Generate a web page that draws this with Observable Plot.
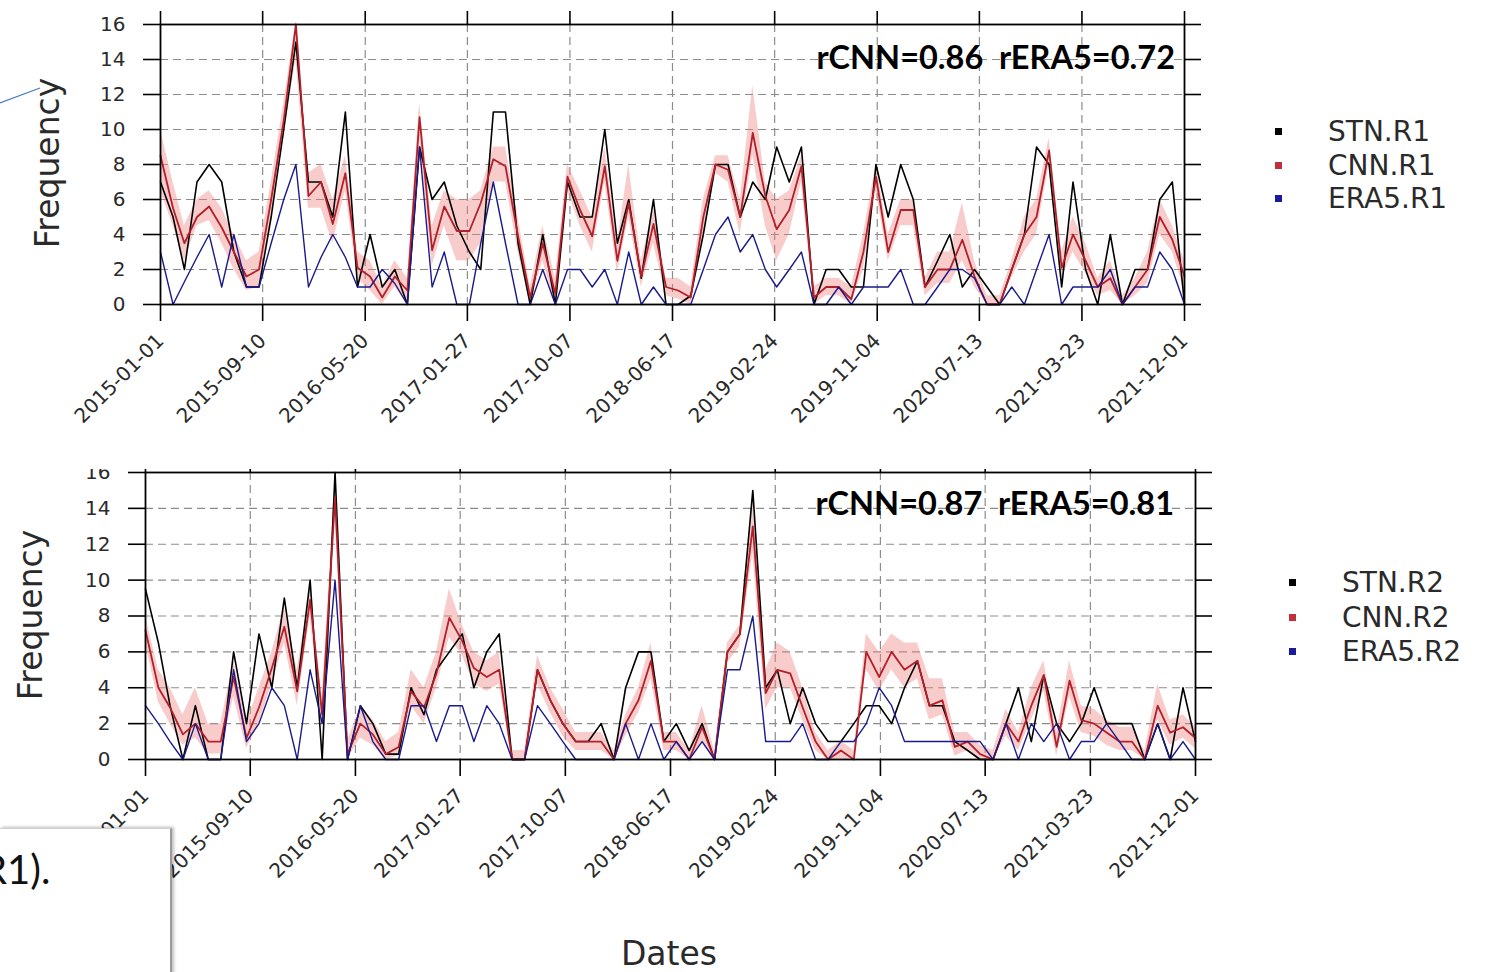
<!DOCTYPE html>
<html><head><meta charset="utf-8">
<script src="https://cdn.jsdelivr.net/npm/d3@7"></script>
<script src="https://cdn.jsdelivr.net/npm/@observablehq/plot@0.6"></script>
<style>
body{margin:0;background:#fff;}
#page{position:relative;width:1485px;height:972px;overflow:hidden;background:#fff;font-family:"DejaVu Sans",sans-serif;color:#222;}
#page div{white-space:pre;}
.abs{position:absolute;}
.sq{position:absolute;width:7px;height:7px;}
.lt{position:absolute;font-size:28px;line-height:28px;transform:translateY(-50%);color:#2a2a2a;}
.ann{position:absolute;font-family:Lato,"Open Sans",sans-serif;font-weight:700;font-size:32.5px;line-height:34px;transform:translate(-100%,-50%);color:#000;}
.ylab{position:absolute;font-size:33px;line-height:33px;transform:translate(-50%,-50%) rotate(-90deg);color:#2a2a2a;}
</style></head><body><div id="page"></div>
<script>
// ---------- data ----------
const startMonth = "2015-01-01", endMonth = "2021-12-01";
const tickLabels = ["2015-01-01","2015-09-10","2016-05-20","2017-01-27","2017-10-07","2018-06-17","2019-02-24","2019-11-04","2020-07-13","2021-03-23","2021-12-01"];
const yTicks = [0,2,4,6,8,10,12,14,16];

const stnR1 = [7,5,2,7,8,7,3,1,1,5,10,15,7,7,5,11,1,4,1,2,0,9,6,7,4.5,3,2,11,11,3.5,0,4,0,7,5,5,10,3.5,6,1.5,6,0,0,0.5,4,8,8,5,7,6,9,7,9,0,2,2,1,1,8,5,8,6,1,2.5,4,1,2,1,0,2,4,9,8,1,7,2,0,4,0,2,2,6,7,0];
const cnnR1 = [8.5,5.5,3.5,5,5.6,4.4,3,1.6,2,6,10.5,16,6.2,7,4.6,7.5,2.1,1.6,0.4,1.6,0.8,10.7,3.1,5.6,4.2,4.2,5.8,8.3,7.9,3.9,0.4,3.5,0.6,7.3,5.4,3.9,7.9,2.5,5.8,1.6,4.6,1,0.8,0.4,5,8,7.7,5,9.8,6.2,4.3,5.4,7.9,0.4,1,1,0.3,3,7.3,3,5.4,5.4,1,2,2,3.7,1.6,0,0,2,4,5,8.8,2.1,4,2.5,1,1.5,0,1,2,5,3.7,1.6];
const cnnR1lo = [6.5,4.5,2.5,4.5,4.8,3.5,2,0.8,1,5,9.5,14,5.5,5.5,3.5,6.5,1.5,0.8,0,1,0,9.5,2.2,4.5,2.5,2.5,3.5,7,7,3,0,2.5,0,6.5,4.5,3,7,1.8,5,1,3.5,0.5,0.3,0,4,7.5,7,4,8.5,4.5,2.5,4,7,0,0.5,0.5,0,2,6.5,2.5,4.5,4.5,0.5,1.2,1.2,2.5,1,0,0,1.5,3,4,8,1.5,3,1.8,0.5,0.8,0,0.5,1.2,4,3,0.8];
const cnnR1hi = [10,7,4.5,6,6.5,5.5,4,2.5,3,7,11.5,16.2,7.5,8,6,8.5,3,2.5,1,2.5,1.5,11.5,4.5,6.5,6,6,6.5,9,9,5,1,4.5,1.5,8,6.5,5,9,3.5,8,2.5,5.5,1.5,1.5,1,6,8.5,8.5,6,12.5,7,6,6.5,8.5,1,1.5,1.5,1,4,8,4,6,6,1.5,3,3,5.8,2.5,0.5,0.5,2.5,5,6,9.5,3,5,3.5,1.5,2.5,0.5,1.5,3,6,4.5,2.5];
const eraR1 = [3,0,1.3,2.7,4,1,4,1,1,3.5,6,8,1,2.7,4,2.7,1,1,2,1.2,0,9,1,3,0,0,3.5,7,3.5,0,0,2,0,2,2,1,2,0,3,0,1,0,0,0,2,4,5,3,4,2,1,2,3,0,0,1,0,1,1,1,2,0,0,1,2,2,1.5,0,0,1,0,2,4,0,1,1,1,2,0,1,1,3,2,0];

const stnR2 = [9.5,6.5,3,0,3,0,0,6,2,7,4,9,4,10,0,16,0,3,2,0.3,0.3,4,2.5,5,6,7,4,6,7,0,0,5,3.3,2,1,1,2,0,4,6,6,1,2,0.5,2,0,6,7,15,4,5,2,4,2,1,1,2,3,3,2,4,5.5,3,3,1,0.5,0,0,2,4,1,4.7,2,1,2,4,2,2,2,0,2,0,4,1];
const cnnR2 = [7.2,4,2.9,1.4,2,1,1,4.6,1.2,2.9,5.1,7.4,3.8,8.9,2.5,14.6,0.3,2,1.4,0.3,0.7,3.8,2.9,4.8,7.9,6.6,5.1,4.6,5,0,0,5,3.3,2,1,1,1,0,2,3.3,5.5,1,1,0,1.8,0,6,7,13,3.7,5,4.8,2.9,1,0,0.5,0,6,4.6,6,5,5.5,3,3.3,0.7,1,0.3,0,2,1,3,4.7,0.7,4.4,2.2,2,1.5,1,1,0,3,1.5,1.8,1.2];
const cnnR2lo = [6.5,3.2,2,0.8,1.2,0.3,0.3,3.5,0.6,2,4.2,6.5,3,8,1.8,13.5,0,1.2,0.8,0,0.2,3,2,4,6.8,5.8,4.2,3.8,4.2,0,0,4.2,2.6,1.3,0.5,0.5,0.5,0,1.3,2.6,4.5,0.5,0.5,0,1,0,5.4,6.3,11.5,2.8,4,4,2.2,0.5,0,0,0,5,3.8,5,4,4.5,2.2,2.5,0.2,0.5,0,0,1.3,0.5,2.2,3.8,0.2,3.5,1.5,1.3,0.8,0.5,0.5,0,2.2,0.8,1.2,0.6];
const cnnR2hi = [8,5,4,2.5,4,2,2,5.5,2,4,6,8.5,5,9.5,3.5,15.5,1,3,2.2,1,1.5,5,4,6,9.5,7.5,6,5.5,6,0.5,0.5,5.8,4,2.8,1.5,1.5,1.5,0.5,2.5,4,6.5,1.5,1.5,0.5,3,0.5,6.5,7.5,14.5,5,6.5,6,4,1.5,0.5,1,0.5,7,6,7,6.5,6.5,4.5,4.5,1.5,1.5,0.8,0.5,2.8,1.5,4,5.5,1.5,5.5,3,2.8,2.2,1.8,1.8,0.5,4.2,2.2,2.5,1.8];
const eraR2 = [3,2,1,0,2,0,0,5,1,2,4,3,0,5,2,10,0,3,1,0,0,3,3,1,3,3,1,3,2,0,0,3,2,1,0,0,0,0,2,0,2,0,1,0,1,0,5,5,8,1,1,1,2,0,0,1,1,2,4,3,1,1,1,1,1,1,1,0,2,0,2,1,2,0,1,1,2,1,0,0,2,0,1,0];

const seriesNames1 = ["STN.R1","CNN.R1","ERA5.R1"];
const seriesNames2 = ["STN.R2","CNN.R2","ERA5.R2"];
const corr1 = "rCNN=0.86  rERA5=0.72";
const corr2 = "rCNN=0.87  rERA5=0.81";
const colors = {stn:"#000000", cnn:"#b3202a", era:"#1a1a8c", band:"#f08080"};

// ---------- build ----------
const parse = d3.utcParse("%Y-%m-%d");
const months = d3.utcMonth.range(parse(startMonth), d3.utcDay.offset(parse(endMonth), 1));
const tickDates = tickLabels.map(parse);
const fmt = d3.utcFormat("%Y-%m-%d");

function panel({stn, cnn, lo, hi, era, width, height, mt, mb, ml, mr}) {
  const rows = months.map((d, i) => ({date: d, stn: stn[i], cnn: cnn[i], lo: lo[i], hi: hi[i], era: era[i]}));
  return Plot.plot({
    width, height, marginTop: mt, marginBottom: mb, marginLeft: ml, marginRight: mr,
    style: {fontFamily: "DejaVu Sans", fontSize: "20px", color: "#2a2a2a", background: "transparent", overflow: "hidden"},
    x: {type: "utc", domain: [months[0], months[months.length - 1]]},
    y: {domain: [0, 16]},
    marks: [
      Plot.gridX(tickDates.slice(1, -1), {stroke: "#8c8c8c", strokeOpacity: 1, strokeWidth: 1.2, strokeDasharray: "8,5"}),
      Plot.gridY(yTicks.slice(1, -1), {stroke: "#8c8c8c", strokeOpacity: 1, strokeWidth: 1.2, strokeDasharray: "8,5"}),
      Plot.areaY(rows, {x: "date", y1: "lo", y2: "hi", fill: colors.band, fillOpacity: 0.4}),
      Plot.line(rows, {x: "date", y: "stn", stroke: colors.stn, strokeWidth: 1.6}),
      Plot.line(rows, {x: "date", y: "cnn", stroke: colors.cnn, strokeWidth: 1.8}),
      Plot.line(rows, {x: "date", y: "era", stroke: colors.era, strokeWidth: 1.4}),
      Plot.frame({stroke: "black", strokeWidth: 1.8}),
      Plot.axisY(yTicks, {anchor: "left", tickSize: 17, tickPadding: 18, strokeWidth: 1.6, stroke: "black", label: null}),
      Plot.axisY(yTicks, {anchor: "right", tickSize: 16, strokeWidth: 1.6, stroke: "black", tickFormat: () => "", label: null}),
      Plot.axisX(tickDates, {anchor: "top", tickSize: 14, strokeWidth: 1.6, stroke: "black", tickFormat: () => "", label: null}),
      Plot.axisX(tickDates, {anchor: "bottom", tickSize: 17, strokeWidth: 1.6, stroke: "black", tickPadding: 16, tickRotate: -45, tickFormat: fmt, label: null})
    ]
  });
}

const page = document.getElementById("page");
function place(el, left, top) { el.style.position = "absolute"; el.style.left = left + "px"; el.style.top = top + "px"; page.appendChild(el); }

place(panel({stn: stnR1, cnn: cnnR1, lo: cnnR1lo, hi: cnnR1hi, era: eraR1, width: 1240, height: 440, mt: 24, mb: 136, ml: 160, mr: 56}), 0, 0);
place(panel({stn: stnR2, cnn: cnnR2, lo: cnnR2lo, hi: cnnR2hi, era: eraR2, width: 1240, height: 431, mt: 3, mb: 431 - 290, ml: 145, mr: 45}), 0, 469);

function addDiv(cls, text, left, top, extra) {
  const d = document.createElement("div"); d.className = cls; d.textContent = text;
  d.style.left = left + "px"; d.style.top = top + "px";
  if (extra) Object.assign(d.style, extra);
  page.appendChild(d); return d;
}
// legends
const legColors = [colors.stn, "#c0303a", "#1a1a9a"];
[132, 166, 199].forEach((y, i) => {
  addDiv("sq", "", 1275, y - 4, {background: legColors[i]});
  addDiv("lt", seriesNames1[i], 1328, y);
});
[583, 618, 652].forEach((y, i) => {
  addDiv("sq", "", 1289, y - 4, {background: legColors[i]});
  addDiv("lt", seriesNames2[i], 1342, y);
});
// annotations
addDiv("ann", corr1, 1175, 57);
addDiv("ann", corr2, 1174, 503);
// axis titles
addDiv("ylab", "Frequency", 47, 163);
addDiv("ylab", "Frequency", 30, 615);
addDiv("abs", "Dates", 669, 953, {fontSize: "33px", lineHeight: "33px", transform: "translate(-50%,-50%)", color: "#2a2a2a"});

// overlay artifacts from the source screenshot
const box = document.createElement("div");
Object.assign(box.style, {position: "absolute", left: "0px", top: "828px", width: "170px", height: "150px", background: "#fff",
  borderTop: "1px solid #d0d0d0", borderRight: "2px solid #9a9a9a", boxShadow: "2px -1px 3px rgba(0,0,0,0.25)", overflow: "hidden"});
const bt = document.createElement("div");
bt.textContent = "R1).";
Object.assign(bt.style, {position: "absolute", left: "-18px", top: "16px", fontFamily: "Lato, 'Open Sans', sans-serif", fontSize: "40px", lineHeight: "48px", color: "#111"});
box.appendChild(bt); page.appendChild(box);

const ns = "http://www.w3.org/2000/svg";
const art = document.createElementNS(ns, "svg");
art.setAttribute("width", 60); art.setAttribute("height", 40);
Object.assign(art.style, {position: "absolute", left: "0px", top: "80px"});
const ln = document.createElementNS(ns, "line");
ln.setAttribute("x1", 0); ln.setAttribute("y1", 23); ln.setAttribute("x2", 40); ln.setAttribute("y2", 8);
ln.setAttribute("stroke", "#4a78c8"); ln.setAttribute("stroke-width", 1.2);
art.appendChild(ln); page.appendChild(art);
</script></body></html>
